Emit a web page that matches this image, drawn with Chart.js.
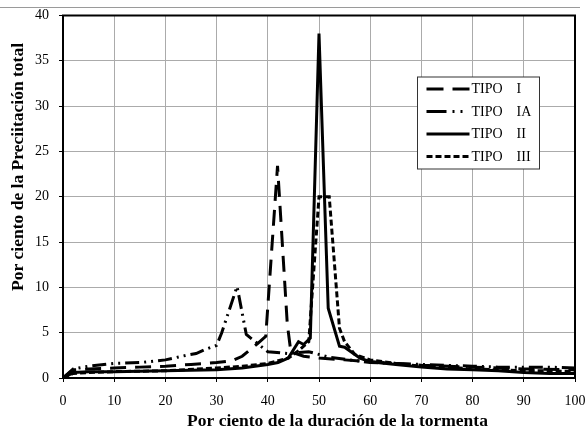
<!DOCTYPE html>
<html>
<head>
<meta charset="utf-8">
<script src="https://cdn.jsdelivr.net/npm/chart.js@4"></script>
<style>
  html, body { margin: 0; padding: 0; background: #fff; }
  #wrap { width: 587px; height: 432px; position: relative; }
</style>
</head>
<body>
<div id="wrap"><canvas id="lluviaChart"></canvas></div>
<script>
/* Distribución temporal de la lluvia por tipo de tormenta */

const tipoLabels = ['TIPO    I', 'TIPO    IA', 'TIPO    II', 'TIPO    III'];
const xTitle = 'Por ciento de la duración de la tormenta';
const yTitle = 'Por ciento de la Preciitación total';

// TIPO I
const tipoI_x = [0, 2, 5, 10, 15, 20, 25, 30, 33, 35, 38, 39.6, 41.9, 43.8, 44.5, 47, 50, 55, 60, 65, 70, 80, 90, 100];
const tipoI_y = [0, 0.9, 1.0, 1.1, 1.2, 1.3, 1.5, 1.7, 1.9, 2.4, 3.8, 4.6, 23.4, 6.0, 2.9, 2.4, 2.2, 2.0, 1.8, 1.6, 1.4, 1.2, 1.0, 0.9];

// TIPO IA
const tipoIA_x = [0, 2, 5, 10, 15, 20, 24, 26, 28, 30, 31, 34, 35.8, 40, 44, 48, 52, 56, 60, 65, 70, 75, 80, 85, 90, 95, 100];
const tipoIA_y = [0, 1.0, 1.3, 1.6, 1.7, 2.0, 2.5, 2.7, 3.2, 3.6, 5.0, 10.1, 4.8, 2.9, 2.7, 2.9, 2.3, 2.0, 1.7, 1.6, 1.5, 1.4, 1.3, 1.2, 1.2, 1.2, 1.1];

// TIPO II
const tipoII_x = [0, 2, 5, 10, 15, 20, 25, 30, 35, 40, 42, 44, 46, 47, 48.3, 50, 51.8, 54, 55, 58, 60, 65, 70, 75, 80, 85, 90, 95, 100];
const tipoII_y = [0, 0.6, 0.7, 0.7, 0.75, 0.8, 0.85, 0.9, 1.1, 1.5, 1.7, 2.2, 4.0, 3.7, 4.4, 38, 7.7, 3.5, 3.4, 2.2, 1.8, 1.5, 1.2, 1.0, 0.9, 0.8, 0.6, 0.5, 0.5];

// TIPO III
const tipoIII_x = [0, 2, 5, 10, 20, 30, 35, 40, 44, 46, 48, 50, 52, 54, 55, 57, 60, 65, 70, 75, 80, 85, 90, 95, 100];
const tipoIII_y = [0, 0.5, 0.6, 0.7, 0.8, 1.1, 1.3, 1.6, 2.2, 3.0, 4.0, 20.0, 20.0, 5.5, 4.0, 2.6, 2.0, 1.6, 1.3, 1.2, 1.0, 0.9, 0.8, 0.8, 0.7];

const xMin = 0, xMax = 100, xStep = 10;
const yMin = 0, yMax = 40, yStep = 5;

const serif = "'Liberation Serif', 'Times New Roman', serif";

// patrones de trazo: línea de la serie y muestra de la leyenda
const dashes = [[16, 9], [14, 5, 2, 5, 2, 5], [], [6, 3]];
const legendDashes = [[17, 9], [20, 6, 2, 6, 2, 7], [], [6, 3]];

function toPoints(xs, ys) {
    return xs.map((x, i) => ({ x: x, y: ys[i] }));
}

const series = [
    toPoints(tipoI_x, tipoI_y),
    toPoints(tipoIA_x, tipoIA_y),
    toPoints(tipoII_x, tipoII_y),
    toPoints(tipoIII_x, tipoIII_y)
];

// línea gris superior, marco negro y títulos de los ejes
const framePlugin = {
    id: 'framePlugin',
    beforeDraw(chart) {
        const ctx = chart.ctx;
        ctx.save();
        ctx.strokeStyle = '#9a9a9a';
        ctx.lineWidth = 1;
        ctx.beginPath();
        ctx.moveTo(0, 7.5);
        ctx.lineTo(580, 7.5);
        ctx.stroke();
        ctx.restore();
    },
    afterDatasetsDraw(chart) {
        const { ctx, chartArea } = chart;
        ctx.save();
        ctx.strokeStyle = '#000';
        ctx.lineWidth = 2;
        ctx.strokeRect(chartArea.left, chartArea.top, chartArea.right - chartArea.left, chartArea.bottom - chartArea.top);

        ctx.fillStyle = '#000';
        ctx.font = 'bold 17.5px ' + serif;
        ctx.textAlign = 'center';
        ctx.textBaseline = 'middle';
        ctx.fillText(xTitle, 337.5, 421);

        ctx.translate(18.5, 167);
        ctx.rotate(-Math.PI / 2);
        ctx.fillText(yTitle, 0, 0);
        ctx.restore();
    }
};

// leyenda en recuadro dentro del gráfico
const legendBox = {
    id: 'legendBox',
    afterDraw(chart) {
        const { ctx, chartArea } = chart;
        const bx = chartArea.left + 354.5;
        const by = chartArea.top + 61.5;
        const bw = 122;
        const bh = 92;
        ctx.save();
        ctx.fillStyle = '#fff';
        ctx.fillRect(bx, by, bw, bh);
        ctx.strokeStyle = '#333';
        ctx.lineWidth = 1;
        ctx.strokeRect(bx, by, bw, bh);

        ctx.font = '14px ' + serif;
        ctx.textBaseline = 'middle';
        ctx.fillStyle = '#000';
        tipoLabels.forEach((label, i) => {
            const ly = by + 12 + i * 22.5;
            ctx.beginPath();
            ctx.setLineDash(legendDashes[i]);
            ctx.lineWidth = 2.8;
            ctx.strokeStyle = '#000';
            ctx.moveTo(bx + 9, ly);
            ctx.lineTo(bx + 52, ly);
            ctx.stroke();
            ctx.setLineDash([]);
            ctx.fillText(label, bx + 54, ly + 0.5);
        });
        ctx.restore();
    }
};

const ctx = document.getElementById('lluviaChart').getContext('2d');

new Chart(ctx, {
    type: 'line',
    data: {
        datasets: series.map((pts, i) => ({
            label: tipoLabels[i],
            data: pts,
            borderColor: '#000',
            backgroundColor: '#000',
            borderWidth: 3,
            borderDash: dashes[i],
            borderCapStyle: 'butt',
            borderJoinStyle: 'miter',
            pointRadius: 0,
            tension: 0,
            fill: false
        }))
    },
    options: {
        responsive: true,
        maintainAspectRatio: false,
        animation: false,
        layout: { padding: { left: 0, right: 12, top: 15.5, bottom: 0 } },
        plugins: {
            legend: { display: false },
            tooltip: { enabled: false }
        },
        scales: {
            x: {
                type: 'linear',
                min: xMin,
                max: xMax,
                afterFit: (scale) => {
                    scale.height = 54;
                    scale.paddingLeft = 11;
                    scale.paddingRight = 11;
                },
                ticks: {
                    stepSize: xStep,
                    color: '#000',
                    padding: 11,
                    font: { family: serif, size: 14 }
                },
                grid: { color: '#ababab', lineWidth: 1, tickLength: 4, tickColor: '#000' },
                border: { color: '#000', width: 2 },
                title: { display: false }
            },
            y: {
                min: yMin,
                max: yMax,
                afterFit: (scale) => {
                    scale.width = 63;
                    scale.paddingTop = 8;
                    scale.paddingBottom = 8;
                },
                ticks: {
                    stepSize: yStep,
                    color: '#000',
                    padding: 10,
                    font: { family: serif, size: 14 }
                },
                grid: { color: '#ababab', lineWidth: 1, tickLength: 4, tickColor: '#000' },
                border: { color: '#000', width: 2 },
                title: { display: false }
            }
        }
    },
    plugins: [framePlugin, legendBox]
});
</script>
</body>
</html>
